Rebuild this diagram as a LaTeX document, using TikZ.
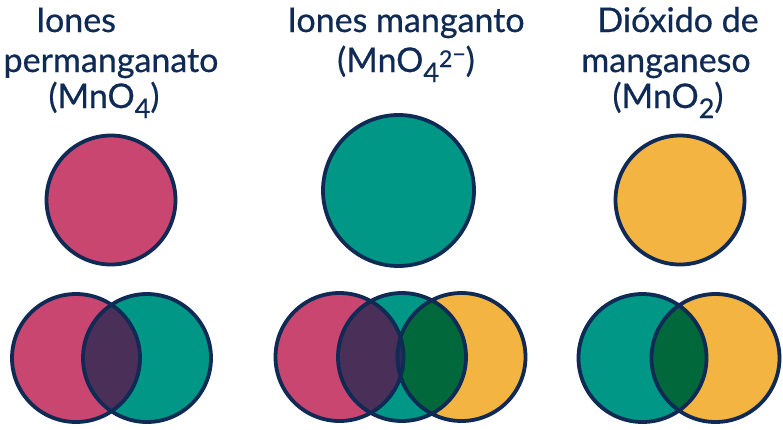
\documentclass[tikz,border=0pt]{standalone}
\usepackage{fontspec}
\setmainfont{Lato}
\newfontfamily\lblfont{Lato}[FakeBold=0.6]
\definecolor{navy}{HTML}{0E2A55}
\definecolor{pinkc}{HTML}{C8466F}
\definecolor{tealc}{HTML}{009787}
\definecolor{yellowc}{HTML}{F3B441}
\definecolor{purplec}{HTML}{4A2F58}
\definecolor{greenc}{HTML}{01683B}
\definecolor{navyfill}{HTML}{2A2E55}
\newcommand{\mysub}[1]{\raisebox{-10pt}{\fontsize{27}{27}\selectfont #1}}
\newcommand{\mysup}[1]{\raisebox{5pt}{\fontsize{23}{23}\selectfont #1}}
\begin{document}
\begin{tikzpicture}[x=1pt,y=-1pt,
  lbl/.style={text=navy, font=\lblfont\fontsize{34}{34}\selectfont, inner sep=0pt, anchor=base},
  ring/.style={draw=navy, line width=3.8pt},
  disc/.style={circle, ring, inner sep=0pt}]
\useasboundingbox (0,0) rectangle (783,429);
\fill[white] (0,0) rectangle (783,429);
% titles
\node[lbl] (t1a) at (76,32) {Iones};
\node[lbl] (t1b) at (111,72) {permanganato};
\node[lbl] (t1c) at (104,108) {(MnO\mysub{4})};
\node[lbl] (t2a) at (406,32) {Iones manganto};
\node[lbl] (t2b) at (406,72) {(MnO\mysub{4}\mysup{2\raisebox{5pt}{−}})};
\node[lbl] (t3a) at (678,32) {Dióxido de};
\node[lbl] (t3b) at (666,72) {manganeso};
\node[lbl] (t3c) at (668,108) {(MnO\mysub{2})};
% top circles
\node[disc, fill=pinkc, minimum size=129pt] (c1) at (111,200) {};
\node[disc, fill=tealc, minimum size=151pt] (c2) at (398.5,190.5) {};
\node[disc, fill=yellowc, minimum size=129pt] (c3) at (680,200) {};
% bottom left venn
\def\R{64pt}
\coordinate (a1) at (76,358);
\coordinate (a2) at (147,358);
\fill[pinkc] (a1) circle[radius=\R];
\fill[tealc] (a2) circle[radius=\R];
\begin{scope}\clip (a1) circle[radius=\R]; \fill[purplec] (a2) circle[radius=\R];\end{scope}
\draw[ring] (a1) circle[radius=\R] (a2) circle[radius=\R];
% bottom middle venn
\coordinate (b1) at (339.5,357);
\coordinate (b2) at (402,357);
\coordinate (b3) at (461.5,357);
\fill[pinkc] (b1) circle[radius=\R];
\fill[tealc] (b2) circle[radius=\R];
\fill[yellowc] (b3) circle[radius=\R];
\begin{scope}\clip (b1) circle[radius=\R]; \fill[purplec] (b2) circle[radius=\R];\end{scope}
\begin{scope}\clip (b3) circle[radius=\R]; \fill[greenc] (b2) circle[radius=\R];\end{scope}
\begin{scope}\clip (b1) circle[radius=\R]; \fill[navyfill] (b3) circle[radius=\R];\end{scope}
\draw[ring] (b1) circle[radius=\R] (b2) circle[radius=\R] (b3) circle[radius=\R];
% bottom right venn
\coordinate (d1) at (642.5,358);
\coordinate (d2) at (715.5,358);
\fill[tealc] (d1) circle[radius=\R];
\fill[yellowc] (d2) circle[radius=\R];
\begin{scope}\clip (d1) circle[radius=\R]; \fill[greenc] (d2) circle[radius=\R];\end{scope}
\draw[ring] (d1) circle[radius=\R] (d2) circle[radius=\R];
\end{tikzpicture}
\end{document}
